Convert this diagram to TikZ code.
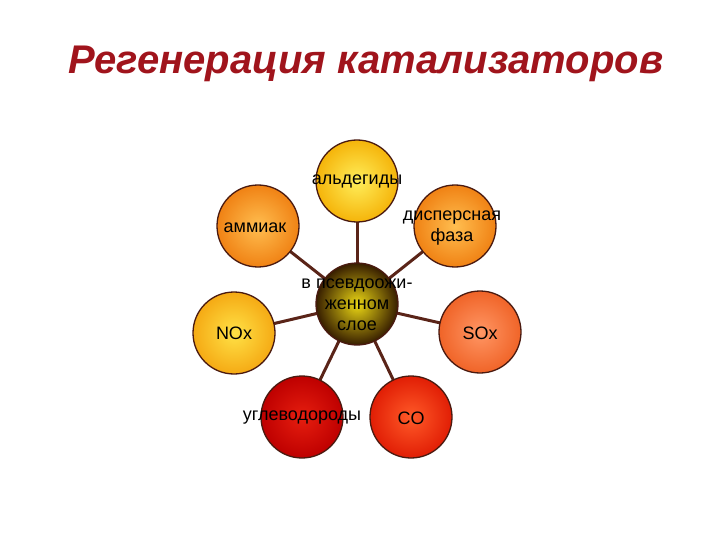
\documentclass[tikz,border=0pt]{standalone}
\usepackage{fontspec}
\setmainfont{Liberation Sans}
\usetikzlibrary{backgrounds}
\definecolor{titlered}{HTML}{A0141C}
\definecolor{rim}{HTML}{4A1A10}
\definecolor{link}{HTML}{5A2418}
\tikzset{
  ball/.style={circle, draw=rim, line width=1.3pt, minimum size=82pt, inner sep=0pt},
  lbl/.style={font=\fontsize{18}{21}\selectfont, align=center, text=black},
  link/.style={draw=link, line width=3pt}
}
\begin{document}
\begin{tikzpicture}[x=1pt,y=-1pt]
\useasboundingbox (0,0) rectangle (720,540);
\node[text=titlered, font=\fontsize{40}{44}\selectfont\bfseries\itshape] (title) at (366,64) {Регенерация катализаторов};
\node[ball, inner color={rgb,255:red,235;green,215;blue,20}, outer color={rgb,255:red,55;green,30;blue,0}] (c) at (357,304) {};
\node[ball, inner color={rgb,255:red,255;green,238;blue,90}, outer color={rgb,255:red,245;green,180;blue,10}] (ald) at (357,181) {};
\node[ball, inner color={rgb,255:red,255;green,190;blue,80}, outer color={rgb,255:red,240;green,130;blue,20}] (amm) at (258,226) {};
\node[ball, inner color={rgb,255:red,255;green,190;blue,80}, outer color={rgb,255:red,240;green,130;blue,20}] (disp) at (455,226) {};
\node[ball, inner color={rgb,255:red,255;green,225;blue,70}, outer color={rgb,255:red,245;green,170;blue,20}] (nox) at (234,333) {};
\node[ball, inner color={rgb,255:red,255;green,150;blue,100}, outer color={rgb,255:red,240;green,100;blue,40}] (sox) at (480,332) {};
\node[ball, inner color={rgb,255:red,230;green,30;blue,15}, outer color={rgb,255:red,190;green,0;blue,0}] (hc) at (302,417) {};
\node[ball, inner color={rgb,255:red,255;green,90;blue,40}, outer color={rgb,255:red,225;green,30;blue,5}] (co) at (411,417) {};
\begin{scope}[on background layer]
\foreach \n in {ald,amm,disp,nox,sox,hc,co} \draw[link] (c.center) -- (\n.center);
\end{scope}
\node[lbl] (tc) at (357,305) {в псевдоожи-\\женном\\слое};
\node[lbl] (tald) at (357,181) {альдегиды};
\node[lbl] (tamm) at (255,228) {аммиак};
\node[lbl] (tdisp) at (452,228) {дисперсная\\фаза};
\node[lbl] (tnox) at (234,333) {NOx};
\node[lbl] (tsox) at (480,333) {SOx};
\node[lbl] (thc) at (302,418) {углеводороды};
\node[lbl] (tco) at (411,418) {CO};
\end{tikzpicture}
\end{document}
